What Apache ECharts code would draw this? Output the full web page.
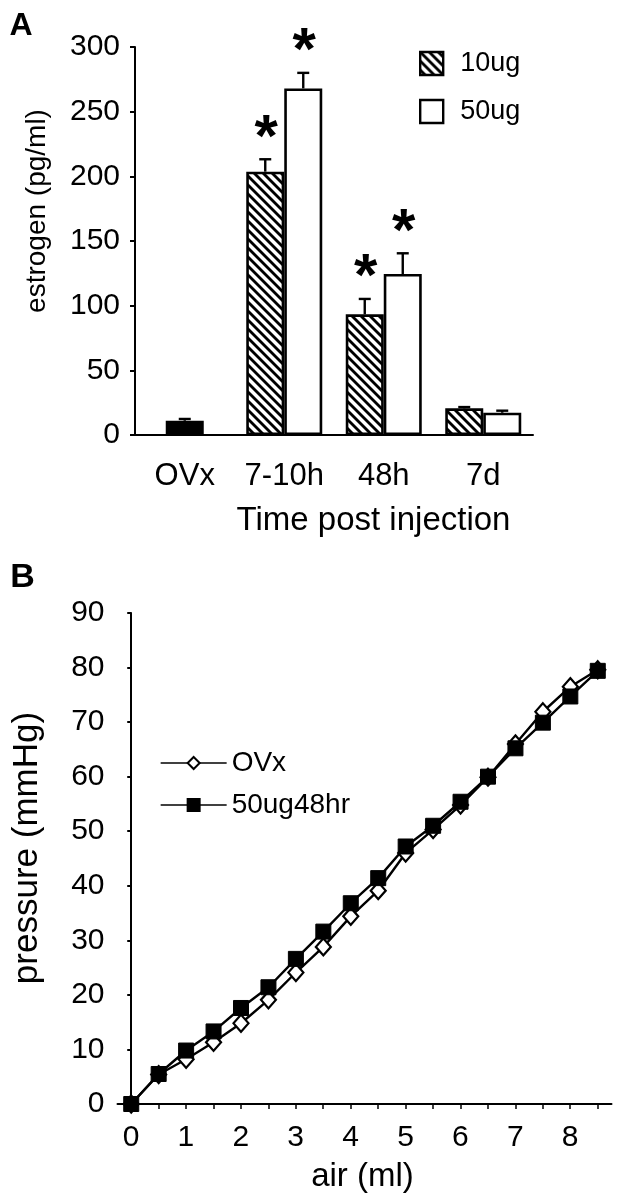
<!DOCTYPE html>
<html><head><meta charset="utf-8">
<script src="https://cdn.jsdelivr.net/npm/echarts@6/dist/echarts.min.js"></script>
<style>html,body{margin:0;padding:0;background:#fff}#c{width:618px;height:1200px}</style>
</head><body><div id="c"></div>
<script>
// ---------- Panel A data ----------
const timeCats = ['OVx', '7-10h', '48h', '7d'];
const ovxMean = [11, null, null, null];
const ovxErr  = [1.4, null, null, null];
const mean10  = [null, 203.6, 93.3, 20.6];
const err10   = [null, 9.6, 11.9, 1.0];
const mean50  = [null, 268, 124.5, 17.2];
const err50   = [null, 12, 16, 1.6];
const sig10   = [false, true, true, false];
const sig50   = [false, true, true, false];
const yTicksA = [0, 50, 100, 150, 200, 250, 300];

// ---------- Panel B data ----------
const airMl    = [0, 0.5, 1, 1.5, 2, 2.5, 3, 3.5, 4, 4.5, 5, 5.5, 6, 6.5, 7, 7.5, 8, 8.5];
const pressOVx = [0, 5.4, 8.2, 11.3, 14.8, 19.1, 24.1, 28.8, 34.4, 39.1, 46.0, 50.3, 54.8, 59.9, 66.0, 71.9, 76.5, 79.6];
const press50  = [0, 5.5, 9.8, 13.3, 17.6, 21.4, 26.6, 31.6, 36.8, 41.4, 47.2, 51.0, 55.4, 60.0, 65.2, 69.9, 74.7, 79.4];
const xTicksB  = [0, 1, 2, 3, 4, 5, 6, 7, 8];
const yTicksB  = [0, 10, 20, 30, 40, 50, 60, 70, 80, 90];

const FONT = '"Liberation Sans", Arial, Helvetica, sans-serif';
const BLACK = '#000';

function hatch() {
  const p = 9;
  const c = document.createElement('canvas');
  c.width = p; c.height = p;
  const g = c.getContext('2d');
  g.fillStyle = '#fff'; g.fillRect(0, 0, p, p);
  g.strokeStyle = '#000'; g.lineWidth = 2.8;
  for (const k of [-p, 0, p]) {
    g.beginPath(); g.moveTo(-p, -p + k); g.lineTo(2 * p, 2 * p + k); g.stroke();
  }
  return c;
}
const hatchPattern = { image: hatch(), repeat: 'repeat' };

function nz(a) { return a.map(v => v == null ? '-' : v); }

function errSeries(means, errs, sigs, offset, xAxisIndex) {
  const data = [];
  means.forEach((m, i) => { if (m != null) data.push([i, m, m + errs[i], sigs && sigs[i] ? 1 : 0]); });
  return {
    type: 'custom', xAxisIndex: xAxisIndex, yAxisIndex: 0, silent: true, z: 5,
    data: data,
    renderItem: function (params, api) {
      const base = api.coord([api.value(0), api.value(1)]);
      const top = api.coord([api.value(0), api.value(2)]);
      const x = base[0] + offset;
      const children = [
        { type: 'line', shape: { x1: x, y1: base[1], x2: x, y2: top[1] }, style: { stroke: BLACK, lineWidth: 2.4 } },
        { type: 'line', shape: { x1: x - 6, y1: top[1], x2: x + 6, y2: top[1] }, style: { stroke: BLACK, lineWidth: 2.4 } }
      ];
      if (api.value(3)) {
        children.push({ type: 'text', style: { text: '*', x: x + 1, y: top[1] - 20, textAlign: 'center', textVerticalAlign: 'middle', font: 'bold 60px ' + FONT, fill: BLACK } });
      }
      return { type: 'group', children: children };
    }
  };
}

const axisTxt = { color: BLACK, fontFamily: FONT };
const chart = echarts.init(document.getElementById('c'), null, { renderer: 'canvas' });

chart.setOption({
  animation: false,
  backgroundColor: '#fff',
  textStyle: { fontFamily: FONT, color: BLACK },
  grid: [
    { left: 135, width: 398, top: 47, height: 388 },
    { left: 117.5, width: 494, top: 613, height: 491 },
    { left: 131, width: 466.65, top: 613, height: 491 }
  ],
  xAxis: [
    { type: 'category', gridIndex: 0, data: timeCats,
      axisLine: { lineStyle: { color: BLACK, width: 2 } }, axisTick: { show: false },
      axisLabel: Object.assign({ fontSize: 31, margin: 26, interval: 0 }, axisTxt), splitLine: { show: false } },
    { type: 'category', gridIndex: 0, data: timeCats, show: false },
    { type: 'value', gridIndex: 1, min: -0.25, max: 8.75,
      axisLine: { show: true, onZero: false, lineStyle: { color: BLACK, width: 2 } },
      axisTick: { show: false }, axisLabel: { show: false }, splitLine: { show: false } },
    { type: 'value', gridIndex: 2, min: 0, max: 8.5, interval: 0.5,
      axisLine: { show: false, onZero: false },
      axisTick: { show: true, length: 5, lineStyle: { color: BLACK, width: 1.5 } },
      axisLabel: Object.assign({ fontSize: 30, margin: 19, showMinLabel: true, showMaxLabel: true,
        formatter: function (v) { return xTicksB.indexOf(v) >= 0 ? String(v) : ''; } }, axisTxt),
      splitLine: { show: false } }
  ],
  yAxis: [
    { type: 'value', gridIndex: 0, min: yTicksA[0], max: yTicksA[yTicksA.length - 1], interval: yTicksA[1] - yTicksA[0],
      axisLine: { show: true, lineStyle: { color: BLACK, width: 2 } },
      axisTick: { show: true, length: 5, lineStyle: { color: BLACK, width: 2 } },
      axisLabel: Object.assign({ fontSize: 30, margin: 15 }, axisTxt), splitLine: { show: false } },
    { type: 'value', gridIndex: 1, min: yTicksB[0], max: yTicksB[yTicksB.length - 1], interval: yTicksB[1] - yTicksB[0],
      axisLine: { show: true, lineStyle: { color: BLACK, width: 2 } },
      axisTick: { show: true, length: 4, lineStyle: { color: BLACK, width: 2 } },
      axisLabel: Object.assign({ fontSize: 30, margin: 13 }, axisTxt), splitLine: { show: false } },
    { type: 'value', gridIndex: 2, min: 0, max: 90, show: false }
  ],
  legend: [
    { data: ['10ug', '50ug'], orient: 'vertical', left: 414, top: 45, itemWidth: 23, itemHeight: 23, itemGap: 21,
      icon: 'rect', selectedMode: false,
      itemStyle: { borderColor: BLACK, borderWidth: 2.4 },
      textStyle: { fontSize: 27, fontFamily: FONT, color: BLACK, padding: [0, 0, 0, 12] } },
    { data: ['OVx', '50ug48hr'], orient: 'vertical', left: 155, top: 744, itemWidth: 66, itemHeight: 15, itemGap: 14,
      selectedMode: false,
      lineStyle: { width: 1.3 },
      textStyle: { fontSize: 28, fontFamily: FONT, color: BLACK } }
  ],
  series: [
    { name: 'ovx-bar', type: 'bar', xAxisIndex: 1, yAxisIndex: 0, data: nz(ovxMean), barWidth: 38,
      itemStyle: { color: BLACK, borderColor: BLACK, borderWidth: 2.4 }, silent: true },
    { name: '10ug', type: 'bar', xAxisIndex: 0, yAxisIndex: 0, data: nz(mean10), barWidth: 38, barGap: '0%',
      itemStyle: { color: hatchPattern, borderColor: BLACK, borderWidth: 2.6 }, silent: true },
    { name: '50ug', type: 'bar', xAxisIndex: 0, yAxisIndex: 0, data: nz(mean50), barWidth: 38, barGap: '0%',
      itemStyle: { color: '#fff', borderColor: BLACK, borderWidth: 2.6 }, silent: true },
    errSeries(ovxMean, ovxErr, null, 0, 1),
    errSeries(mean10, err10, sig10, -19, 0),
    errSeries(mean50, err50, sig50, 19, 0),
    { name: 'OVx', type: 'line', xAxisIndex: 2, yAxisIndex: 1, z: 3,
      data: airMl.map((x, i) => [x, pressOVx[i]]),
      symbol: 'diamond', symbolSize: [15, 17], showAllSymbol: true,
      itemStyle: { color: '#fff', borderColor: BLACK, borderWidth: 2.2 },
      lineStyle: { color: BLACK, width: 2.4 } },
    { name: '50ug48hr', type: 'line', xAxisIndex: 2, yAxisIndex: 1, z: 4,
      data: airMl.map((x, i) => [x, press50[i]]),
      symbol: 'rect', symbolSize: 15, showAllSymbol: true,
      itemStyle: { color: BLACK, borderColor: BLACK, borderWidth: 1 },
      lineStyle: { color: BLACK, width: 2.4 } }
  ],
  graphic: [
    { type: 'text', x: 21, y: 26, style: { text: 'A', font: 'bold 32px ' + FONT, fill: BLACK, textAlign: 'center', textVerticalAlign: 'middle' } },
    { type: 'text', x: 22.5, y: 578, style: { text: 'B', font: 'bold 34px ' + FONT, fill: BLACK, textAlign: 'center', textVerticalAlign: 'middle' } },
    { type: 'text', x: 37, y: 211, rotation: Math.PI / 2, style: { text: 'estrogen (pg/ml)', font: '28px ' + FONT, fill: BLACK, textAlign: 'center', textVerticalAlign: 'middle' } },
    { type: 'text', x: 373.5, y: 521, style: { text: 'Time post injection', font: '33px ' + FONT, fill: BLACK, textAlign: 'center', textVerticalAlign: 'middle' } },
    { type: 'text', x: 27, y: 848, rotation: Math.PI / 2, style: { text: 'pressure (mmHg)', font: '35px ' + FONT, fill: BLACK, textAlign: 'center', textVerticalAlign: 'middle' } },
    { type: 'text', x: 362.5, y: 1177, style: { text: 'air (ml)', font: '33px ' + FONT, fill: BLACK, textAlign: 'center', textVerticalAlign: 'middle' } }
  ]
});
</script>
</body></html>
